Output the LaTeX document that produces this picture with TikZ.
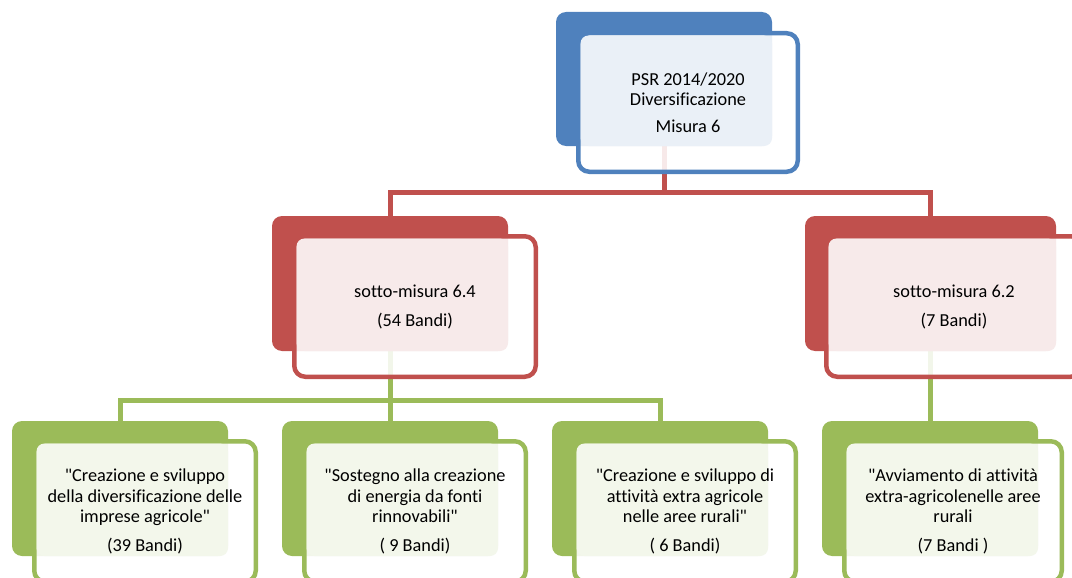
\documentclass[tikz,border=0pt]{standalone}
\usepackage{fontspec}
\setmainfont{Carlito}[Ligatures={TeXOff,CommonOff}]
\usetikzlibrary{backgrounds}
\definecolor{accblue}{HTML}{4F81BD}
\definecolor{accred}{HTML}{C0504D}
\definecolor{accgreen}{HTML}{9BBB59}
\tikzset{
  backbox/.style={fill=#1, rounded corners=10pt, inner sep=0pt, outer sep=0pt},
  framebox/.style={draw=#1, line width=4.5pt, fill=white, fill opacity=.88, rounded corners=11pt, inner sep=0pt, outer sep=0pt},
  lightbox/.style={fill=#1!12, rounded corners=8pt},
  boxtext/.style={align=center, font=\fontsize{18.3}{20.5}\selectfont},
  link/.style={draw=#1, line width=5pt}
}

\begin{document}
\begin{tikzpicture}[x=1pt,y=-1pt]
\useasboundingbox (0,0) rectangle (1072,578);
% Misura 6
\node[backbox=accblue, minimum width=216pt, minimum height=134pt] (psrback) at (664,79) {};
\node[framebox=accblue, minimum width=219.5pt, minimum height=138.5pt] (psr) at (688,102.5) {};
\fill[lightbox=accblue] ([shift={(2.25,2.25)}]psr.north west) rectangle (psrback.south east);
\node[boxtext] at (psr) {PSR 2014/2020\\Diversificazione\\[6pt]Misura 6};
% sotto-misure
\node[backbox=accred, minimum width=236pt, minimum height=135pt] (sm64back) at (390,283.5) {};
\node[framebox=accred, minimum width=241.5pt, minimum height=140.5pt] (sm64) at (415,306.5) {};
\fill[lightbox=accred] ([shift={(2.25,2.25)}]sm64.north west) rectangle (sm64back.south east);
\node[boxtext] at (sm64) {sotto-misura 6.4\\[8.5pt](54 Bandi)};
\node[backbox=accred, minimum width=251pt, minimum height=135pt] (sm62back) at (930.5,283.5) {};
\node[framebox=accred, minimum width=255.5pt, minimum height=140.5pt] (sm62) at (954,306.5) {};
\fill[lightbox=accred] ([shift={(2.25,2.25)}]sm62.north west) rectangle (sm62back.south east);
\node[boxtext] at (sm62) {sotto-misura 6.2\\[8.5pt](7 Bandi)};
% bandi
\node[backbox=accgreen, minimum width=216pt, minimum height=135pt] (b1back) at (120,488.5) {};
\node[framebox=accgreen, minimum width=221.5pt, minimum height=140.5pt] (b1) at (145,511.5) {};
\fill[lightbox=accgreen] ([shift={(2.25,2.25)}]b1.north west) rectangle (b1back.south east);
\node[boxtext] at (b1) {"Creazione e sviluppo\\della diversificazione delle\\imprese agricole"\\[8.5pt](39 Bandi)};
\node[backbox=accgreen, minimum width=216pt, minimum height=135pt] (b2back) at (390,488.5) {};
\node[framebox=accgreen, minimum width=221.5pt, minimum height=140.5pt] (b2) at (415,511.5) {};
\fill[lightbox=accgreen] ([shift={(2.25,2.25)}]b2.north west) rectangle (b2back.south east);
\node[boxtext] at (b2) {"Sostegno alla creazione\\di energia da fonti\\rinnovabili"\\[8.5pt]( 9 Bandi)};
\node[backbox=accgreen, minimum width=216pt, minimum height=135pt] (b3back) at (660,488.5) {};
\node[framebox=accgreen, minimum width=221.5pt, minimum height=140.5pt] (b3) at (685,511.5) {};
\fill[lightbox=accgreen] ([shift={(2.25,2.25)}]b3.north west) rectangle (b3back.south east);
\node[boxtext] at (b3) {"Creazione e sviluppo di\\attività extra agricole\\nelle aree rurali"\\[8.5pt]( 6 Bandi)};
\node[backbox=accgreen, minimum width=216pt, minimum height=135pt] (b4back) at (930,488.5) {};
\node[framebox=accgreen, minimum width=217.5pt, minimum height=140.5pt] (b4) at (953,511.5) {};
\fill[lightbox=accgreen] ([shift={(2.25,2.25)}]b4.north west) rectangle (b4back.south east);
\node[boxtext] at (b4) {"Avviamento di attività\\extra-agricolenelle aree\\rurali\\[8.5pt](7 Bandi )};
% connectors
\begin{pgfonlayer}{background}
\draw[link=accred] (psrback.south) -- ++(0,46.5) -| (sm64back.north);
\draw[link=accred] (psrback.south) -- ++(0,46.5) -| (sm62back.north);
\draw[link=accgreen] (sm64back.south) -- ++(0,49.5) -| (b1back.north);
\draw[link=accgreen] (sm64back.south) -- ++(0,49.5) -| (b2back.north);
\draw[link=accgreen] (sm64back.south) -- ++(0,49.5) -| (b3back.north);
\draw[link=accgreen] (sm62back.south) -- (sm62back.south |- b4back.north);
\end{pgfonlayer}
\end{tikzpicture}
\end{document}
